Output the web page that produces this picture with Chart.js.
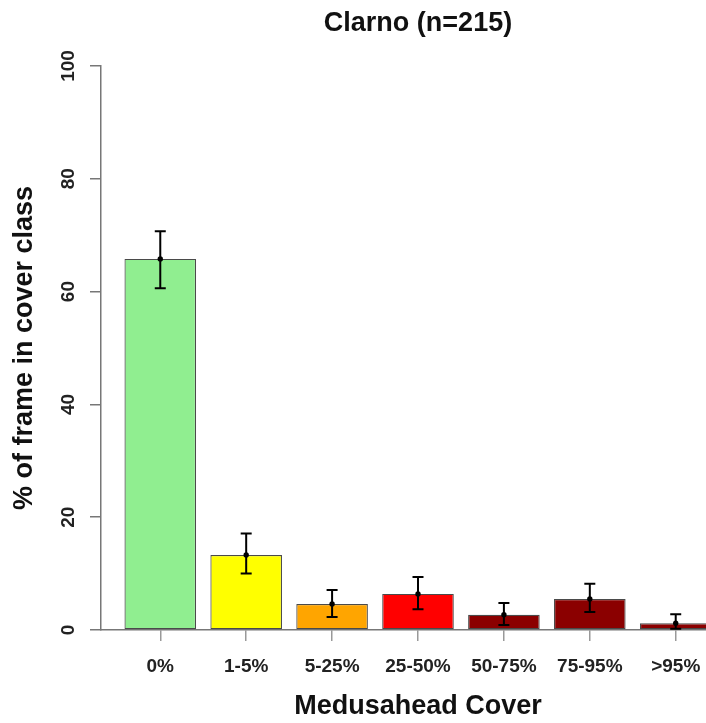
<!DOCTYPE html>
<html><head><meta charset="utf-8">
<script src="https://cdn.jsdelivr.net/npm/chart.js@4"></script>
<style>
html,body{margin:0;padding:0;overflow:hidden;background:#fff;width:706px;height:723px}
#wrap{width:760px;height:723px}
</style></head>
<body><div id="wrap"><canvas id="c" width="760" height="723"></canvas></div>
<script>
const categories = ['0%','1-5%','5-25%','25-50%','50-75%','75-95%','>95%'];
const means   = [65.8, 13.3, 4.6, 6.4, 2.7, 5.5, 1.2];
const errLow  = [60.6, 10.0, 2.3, 3.7, 0.9, 3.2, 0.2];
const errHigh = [70.7, 17.1, 7.1, 9.4, 4.8, 8.2, 2.8];
const barColors = ['#90EE90','#FFFF00','#FFA500','#FF0000','#8B0000','#8B0000','#8B0000'];
const yTicks = [0, 20, 40, 60, 80, 100];

const FONT = "'Liberation Sans', Arial, Helvetica, sans-serif";

const errorBars = {
  id: 'errorBars',
  afterDatasetsDraw(chart) {
    const {ctx, scales: {x, y}} = chart;
    ctx.save();
    ctx.strokeStyle = '#000';
    ctx.fillStyle = '#000';
    ctx.lineWidth = 2;
    categories.forEach((c, i) => {
      const px = x.getPixelForValue(i);
      const yl = y.getPixelForValue(errLow[i]);
      const yh = y.getPixelForValue(errHigh[i]);
      const ym = y.getPixelForValue(means[i]);
      ctx.beginPath();
      ctx.moveTo(px, yl); ctx.lineTo(px, yh);
      ctx.moveTo(px - 5.5, yl); ctx.lineTo(px + 5.5, yl);
      ctx.moveTo(px - 5.5, yh); ctx.lineTo(px + 5.5, yh);
      ctx.stroke();
      ctx.beginPath();
      ctx.arc(px, ym, 2.7, 0, Math.PI * 2);
      ctx.fill();
    });
    ctx.restore();
  }
};

new Chart(document.getElementById('c'), {
  type: 'bar',
  data: {
    datasets: [{
      data: categories.map((c, i) => ({x: i, y: means[i]})),
      backgroundColor: barColors,
      borderColor: '#4a4a4a',
      borderWidth: 1.2,
      borderSkipped: false,
      barPercentage: 1 / 1.2,
      categoryPercentage: 1
    }]
  },
  options: {
    responsive: false,
    animation: false,
    layout: {padding: {left: 0, right: 25, top: 0, bottom: 0}},
    plugins: {
      legend: {display: false},
      tooltip: {enabled: false},
      title: {
        display: true,
        text: 'Clarno (n=215)',
        fullSize: false,
        color: '#111',
        font: {family: FONT, size: 27, weight: 'bold'},
        padding: {top: 7, bottom: 26.6}
      }
    },
    scales: {
      x: {
        type: 'linear',
        min: -0.69,
        max: 6.69,
        offset: false,
        afterFit: s => { s.height = 93; },
        afterBuildTicks: s => { s.ticks = categories.map((c, i) => ({value: i})); },
        ticks: {
          autoSkip: false,
          includeBounds: false,
          maxRotation: 0,
          padding: 14,
          color: '#222',
          font: {family: FONT, size: 19, weight: 'bold'},
          callback: v => categories[v]
        },
        grid: {display: true, offset: false, drawOnChartArea: false, drawTicks: true, tickLength: 11, color: '#999', lineWidth: 1.5},
        border: {display: true, color: '#777', width: 1.5},
        title: {
          display: true,
          text: 'Medusahead Cover',
          color: '#111',
          font: {family: FONT, size: 27, weight: 'bold'},
          padding: {top: 0, bottom: 0}
        }
      },
      y: {
        min: 0,
        max: 100,
        afterFit: s => { s.width = 101; },
        afterBuildTicks: s => { s.ticks = yTicks.map(v => ({value: v})); },
        ticks: {
          minRotation: 90,
          maxRotation: 90,
          crossAlign: 'center',
          padding: 5,
          color: '#222',
          font: {family: FONT, size: 19, weight: 'bold'}
        },
        grid: {display: true, drawOnChartArea: false, drawTicks: true, tickLength: 11, color: '#777', lineWidth: 1.5},
        border: {display: true, color: '#777', width: 1.5},
        title: {
          display: true,
          text: '% of frame in cover class',
          color: '#111',
          font: {family: FONT, size: 27, weight: 'bold'},
          padding: {top: 8, bottom: 0}
        }
      }
    }
  },
  plugins: [errorBars]
});
</script>
</body></html>
